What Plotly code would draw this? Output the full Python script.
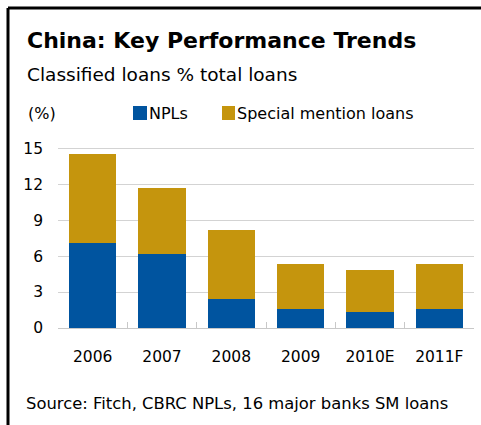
import plotly.graph_objects as go

# Data: classified loans as % of total loans
years = ["2006", "2007", "2008", "2009", "2010E", "2011F"]
npl = [7.1, 6.2, 2.4, 1.6, 1.3, 1.6]
special_mention = [7.4, 5.5, 5.8, 3.7, 3.5, 3.7]
series_names = ["NPLs", "Special mention loans"]
y_ticks = [0, 3, 6, 9, 12, 15]

BLUE = "#00549F"
GOLD = "#C5950D"
FONT = "DejaVu Sans"

W, H = 481, 425
ML, MR, MT, MB = 58, 7, 147, 97


def px(x):
    return (x - ML) / (W - ML - MR)


def py(y):
    return (H - MB - y) / (H - MT - MB)


fig = go.Figure()
fig.add_trace(go.Bar(x=years, y=npl, name=series_names[0], marker_color=BLUE,
                     marker_line_width=0, showlegend=False))
fig.add_trace(go.Bar(x=years, y=special_mention, name=series_names[1],
                     marker_color=GOLD, marker_line_width=0, showlegend=False))

annotations = [
    dict(text="<b>China: Key Performance Trends</b>", x=px(25), y=py(40),
         font=dict(size=22, color="#000000", family=FONT)),
    dict(text="Classified loans % total loans", x=px(25), y=py(75),
         font=dict(size=18.5, color="#000000", family=FONT)),
    dict(text="(%)", x=px(26), y=py(113),
         font=dict(size=16, color="#000000", family=FONT)),
    dict(text=series_names[0], x=px(147), y=py(113),
         font=dict(size=16, color="#000000", family=FONT)),
    dict(text=series_names[1], x=px(235), y=py(113),
         font=dict(size=16, color="#000000", family=FONT)),
    dict(text="Source: Fitch, CBRC NPLs, 16 major banks SM loans", x=px(24), y=py(403),
         font=dict(size=16.4, color="#000000", family=FONT)),
]
for a in annotations:
    a.update(xref="paper", yref="paper", xanchor="left", yanchor="middle",
             showarrow=False)

shapes = [
    # legend swatches
    dict(type="rect", x0=px(133), x1=px(147), y0=py(106), y1=py(120),
         fillcolor=BLUE, line_width=0),
    dict(type="rect", x0=px(222), x1=px(235), y0=py(106), y1=py(120),
         fillcolor=GOLD, line_width=0),
    # frame: left and top rules
    dict(type="line", x0=px(8), x1=px(8), y0=py(8), y1=py(430),
         line=dict(color="#000000", width=3)),
    dict(type="line", x0=px(8), x1=px(485), y0=py(8), y1=py(8),
         line=dict(color="#000000", width=3)),
]
for s in shapes:
    s.update(xref="paper", yref="paper")

fig.update_layout(
    barmode="stack",
    bargap=0.32,
    width=W, height=H,
    margin=dict(l=ML, r=MR, t=MT, b=MB, pad=0),
    paper_bgcolor="#FFFFFF",
    plot_bgcolor="#FFFFFF",
    font=dict(family=FONT, size=15, color="#000000"),
    annotations=annotations,
    shapes=shapes,
    xaxis=dict(
        showgrid=False, showline=True, linecolor="#C8C8C8", linewidth=1,
        ticks="inside", tickson="boundaries", ticklen=6, tickcolor="#C8C8C8",
        tickfont=dict(size=15.5, family=FONT, color="#000000"),
        ticklabelstandoff=14, fixedrange=True,
    ),
    yaxis=dict(
        range=[0, 15.1], tickvals=y_ticks, showgrid=True, gridcolor="#D3D3D3",
        gridwidth=1, zeroline=False, showline=False, ticks="",
        tickfont=dict(size=15.5, family=FONT, color="#000000"),
        ticklabelstandoff=14, fixedrange=True,
    ),
)

fig.write_html("out.html")
